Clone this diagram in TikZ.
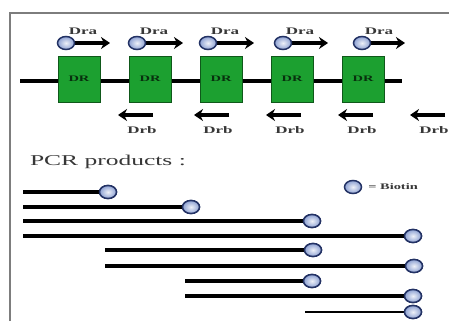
\documentclass[tikz,border=0pt]{standalone}
\usepackage{fontspec}
\setmainfont{Liberation Serif}
\usetikzlibrary{arrows.meta,shapes.geometric,shadings,calc}
\definecolor{drgreen}{RGB}{28,160,48}
\definecolor{biotinedge}{RGB}{35,50,100}
\definecolor{biotinfill}{RGB}{140,160,210}
\definecolor{framegrey}{RGB}{125,125,125}
\definecolor{labelgrey}{RGB}{55,55,55}

\tikzset{
  wide/.style={xscale=1.7, transform shape},
  drbox/.style={draw=drgreen!55!black, fill=drgreen, line width=0.8pt,
    minimum width=42pt, minimum height=46pt, inner sep=0pt},
  biotin/.style={ellipse, draw=biotinedge, line width=1.5pt,
    inner color=white!85!biotinfill, outer color=biotinfill,
    minimum width=17pt, minimum height=13pt, inner sep=0pt},
  primer/.style={line width=3.4pt, -{Stealth[length=9pt,width=12pt]}},
  product/.style={line width=3.8pt},
  primerlabel/.style={font=\fontsize{10}{10}\selectfont\bfseries,
    text=labelgrey, wide},
}

\begin{document}
\begin{tikzpicture}[x=1pt, y=-1pt]
    \useasboundingbox (0,0) rectangle (449,321);
    % Frame (cut at right and bottom)
    \draw[framegrey, line width=1.5pt] (10,321) -- (10,13) -- (449,13);
    % Backbone
    \coordinate (bbL) at (20,81);
    \coordinate (bbR) at (402,81);
    \draw[line width=4.5pt] (bbL) -- (bbR);
    % DR boxes
    \foreach \i/\x in {1/79, 2/150, 3/221, 4/292, 5/363}{
      \node[drbox] (dr\i) at (\x,79)
        {\scalebox{1.7}[1]{\fontsize{8.5}{8.5}\selectfont\bfseries
          \color{drgreen!30!black}DR}};
    }
    % Dra primers (biotinylated, forward)
    \foreach \i/\c/\t in {1/66/110, 2/137/183, 3/208/254, 4/283/328, 5/362/405}{
      \coordinate (dratip\i) at (\t,43);
      \draw[primer] (\c,43) -- (dratip\i);
      \node[biotin] (drab\i) at (\c,43) {};
      \node[primerlabel] (dra\i) at ($(drab\i)+(17,-12)$) {Dra};
    }
    % Drb primers (reverse)
    \foreach \i/\t in {1/118, 2/194, 3/266, 4/338, 5/410}{
      \coordinate (drbtail\i) at (\t+35,115);
      \coordinate (drbtip\i) at (\t,115);
      \draw[primer] (drbtail\i) -- (drbtip\i);
      \node[primerlabel] (drb\i) at (\t+24,130) {Drb};
    }
    % PCR products
    \node[anchor=base west, font=\fontsize{15}{15}\selectfont,
      text=labelgrey, wide] (pcr) at (24,165) {PCR products :};
    \node[biotin] (legend) at (353,187) {};
    \node[anchor=west, font=\fontsize{8.5}{8.5}\selectfont\bfseries,
      text=labelgrey, wide] (legendtxt) at (legend.east) {= Biotin};
    \foreach \i/\s/\e/\y in {1/23/108/192, 2/23/191/207, 3/23/312/221,
        4/23/413/236, 5/105/313/250, 6/105/414/266, 7/185/312/281,
        8/185/413/296}{
      \coordinate (ps\i) at (\s,\y);
      \node[biotin] (pe\i) at (\e,\y) {};
      \draw[product] (ps\i) -- (pe\i);
      \node[biotin] at (pe\i) {};
    }
    \coordinate (ps9) at (305,312);
    \node[biotin] (pe9) at (413,312) {};
    \draw[line width=2.8pt] (ps9) -- (pe9);
    \node[biotin] at (pe9) {};
  \end{tikzpicture}
\end{document}
